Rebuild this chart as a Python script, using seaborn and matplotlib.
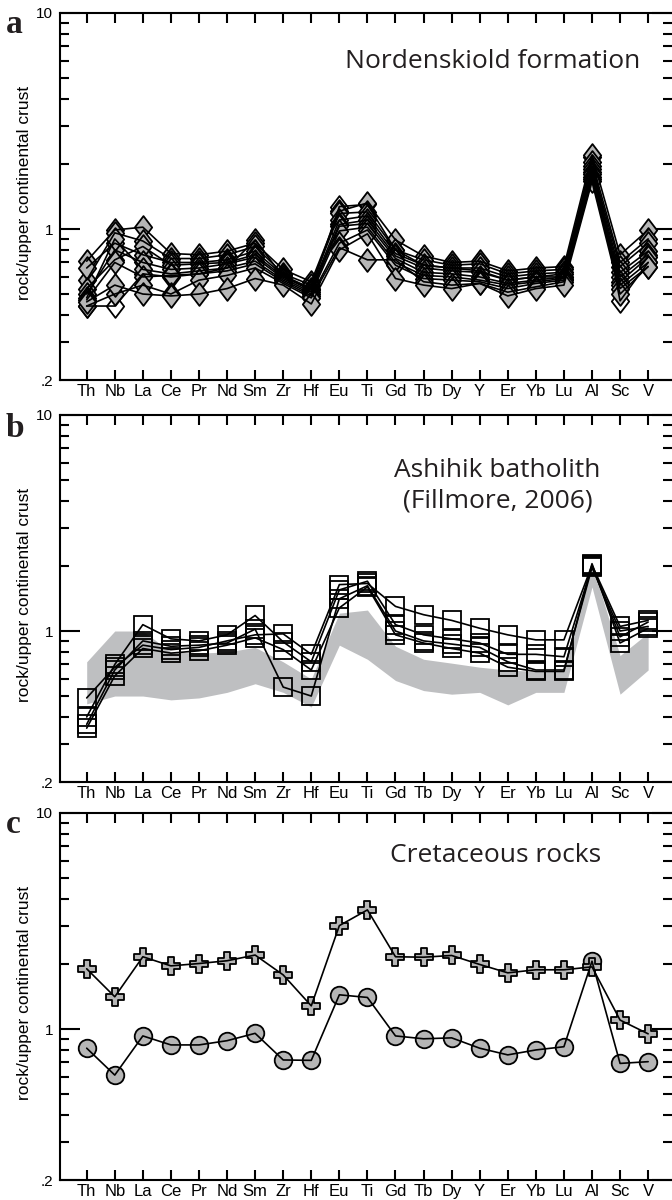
import numpy as np
import pandas as pd
import matplotlib
matplotlib.use("Agg")
import matplotlib.pyplot as plt
from matplotlib.path import Path
from matplotlib.ticker import FixedLocator, FixedFormatter, NullFormatter
import seaborn as sns

# ---------------- data ----------------
elements = ["Th", "Nb", "La", "Ce", "Pr", "Nd", "Sm", "Zr", "Hf", "Eu", "Ti",
            "Gd", "Tb", "Dy", "Y", "Er", "Yb", "Lu", "Al", "Sc", "V"]

# Panel a: Nordenskiold formation (open diamond sample + grey diamond samples)
nord_open = [0.44, 0.44, 0.62, 0.60, 0.62, 0.66, 0.89, 0.60, 0.53, 1.27, 1.30,
             0.80, 0.68, 0.66, 0.64, 0.58, 0.60, 0.60, 2.15, 0.465, 0.70]
nord_1 = [0.71, 0.99, 1.02, 0.77, 0.76, 0.79, 0.86, 0.65, 0.57, 1.21, 1.32,
          0.89, 0.75, 0.70, 0.71, 0.64, 0.66, 0.67, 2.20, 0.76, 0.99]
nord_2 = [0.58, 0.96, 0.88, 0.73, 0.73, 0.76, 0.83, 0.62, 0.55, 1.18, 1.20,
          0.80, 0.72, 0.68, 0.69, 0.62, 0.64, 0.65, 2.05, 0.70, 0.90]
nord_3 = [0.66, 0.86, 0.76, 0.70, 0.70, 0.72, 0.79, 0.61, 0.53, 1.10, 1.15,
          0.77, 0.68, 0.66, 0.66, 0.60, 0.62, 0.63, 1.95, 0.67, 0.86]
nord_4 = [0.53, 0.72, 0.83, 0.68, 0.69, 0.70, 0.76, 0.60, 0.52, 1.05, 1.10,
          0.75, 0.66, 0.64, 0.63, 0.58, 0.60, 0.62, 1.90, 0.63, 0.79]
nord_5 = [0.50, 0.80, 0.70, 0.65, 0.66, 0.69, 0.74, 0.59, 0.51, 1.03, 1.06,
          0.73, 0.63, 0.62, 0.60, 0.56, 0.58, 0.60, 1.84, 0.60, 0.76]
nord_6 = [0.48, 0.90, 0.65, 0.62, 0.64, 0.66, 0.71, 0.58, 0.50, 0.98, 1.02,
          0.70, 0.61, 0.60, 0.58, 0.55, 0.57, 0.59, 1.80, 0.57, 0.74]
nord_7 = [0.47, 0.70, 0.60, 0.61, 0.62, 0.64, 0.69, 0.57, 0.49, 0.86, 0.99,
          0.68, 0.59, 0.58, 0.57, 0.53, 0.56, 0.58, 1.75, 0.55, 0.70]
nord_8 = [0.44, 0.50, 0.55, 0.50, 0.58, 0.61, 0.66, 0.56, 0.48, 0.82, 0.72,
          0.72, 0.57, 0.55, 0.56, 0.51, 0.54, 0.57, 1.70, 0.53, 0.67]
nord_9 = [0.46, 0.55, 0.50, 0.49, 0.50, 0.53, 0.59, 0.55, 0.45, 0.80, 0.95,
          0.59, 0.55, 0.53, 0.56, 0.49, 0.53, 0.55, 1.66, 0.50, 0.67]

# Panel b: Ashihik batholith samples + grey field (Nordenskiold range)
ash_1 = [0.49, 0.68, 0.86, 0.82, 0.84, 0.90, 0.96, 0.97, 0.78, 1.64, 1.66,
         1.30, 1.19, 1.12, 1.03, 0.96, 0.91, 0.91, 2.02, 1.05, 1.12]
ash_2 = [0.40, 0.70, 1.07, 0.92, 0.90, 0.96, 1.18, 0.89, 0.72, 1.55, 1.70,
         1.07, 0.96, 0.92, 0.88, 0.78, 0.78, 0.76, 2.00, 0.94, 1.10]
ash_3 = [0.37, 0.66, 0.90, 0.85, 0.86, 0.88, 1.02, 0.55, 0.50, 1.41, 1.62,
         1.00, 0.90, 0.87, 0.84, 0.72, 0.66, 0.66, 1.97, 1.00, 1.05]
ash_4 = [0.355, 0.62, 0.83, 0.79, 0.81, 0.86, 0.93, 0.82, 0.66, 1.28, 1.60,
         0.96, 0.88, 0.83, 0.79, 0.68, 0.65, 0.65, 2.05, 0.88, 1.03]
field_low = [0.46, 0.50, 0.50, 0.48, 0.49, 0.52, 0.57, 0.52, 0.445, 0.86, 0.74,
             0.59, 0.53, 0.51, 0.52, 0.455, 0.52, 0.52, 1.60, 0.51, 0.66]
field_high = [0.72, 1.00, 1.00, 0.80, 0.79, 0.80, 0.84, 0.72, 0.60, 1.21, 1.25,
              0.85, 0.74, 0.71, 0.68, 0.66, 0.65, 0.65, 2.05, 0.77, 0.98]

# Panel c: Cretaceous rocks
cret_cross = [1.90, 1.41, 2.16, 1.96, 2.01, 2.07, 2.20, 1.78, 1.28, 3.01, 3.56,
              2.16, 2.15, 2.19, 1.99, 1.82, 1.88, 1.88, 1.94, 1.10, 0.95]
cret_circle = [0.815, 0.612, 0.929, 0.844, 0.844, 0.883, 0.955, 0.719, 0.716,
               1.44, 1.40, 0.929, 0.901, 0.91, 0.815, 0.759, 0.80, 0.828,
               2.06, 0.693, 0.706]

titles = ["Nordenskiold formation", "Ashihik batholith", "(Fillmore, 2006)",
          "Cretaceous rocks"]
letters = ["a", "b", "c"]
ylab = "rock/upper continental crust"

# ---------------- style ----------------
sns.set_style("ticks")
plt.rcParams["font.family"] = ["Liberation Sans", "DejaVu Sans"]
plt.rcParams["axes.linewidth"] = 1.5
for k in ["text.color", "axes.labelcolor", "xtick.color", "ytick.color",
          "axes.edgecolor"]:
    plt.rcParams[k] = "black"

GREY = "#B6B6B6"
FIELD = "#BEBFC1"
TXT = "#231F20"

pos = np.arange(len(elements))
diamond = Path([(0, 1), (0.76, 0), (0, -1), (-0.76, 0), (0, 1)],
               [Path.MOVETO, Path.LINETO, Path.LINETO, Path.LINETO, Path.CLOSEPOLY])


def long_df(series):
    rows = []
    for name, vals in series.items():
        for p, v in zip(pos, vals):
            rows.append({"sample": name, "pos": p, "value": v})
    return pd.DataFrame(rows)


fig = plt.figure(figsize=(6.72, 12), dpi=100)
W = 672.0
H = 1200.0
left = 60 / W
width = 612 / W
tops = [13, 415, 813]
axes = []
for t in tops:
    axes.append(fig.add_axes([left, 1 - (t + 367) / H, width, 367 / H]))

# ---- panel a ----
ax = axes[0]
df_open = long_df({"open": nord_open})
sns.scatterplot(data=df_open, x="pos", y="value", ax=ax, marker=diamond, s=270,
                color="white", edgecolor="black", linewidth=1.3, zorder=3, legend=False)
grey_series = {"n1": nord_1, "n2": nord_2, "n3": nord_3, "n4": nord_4, "n5": nord_5,
               "n6": nord_6, "n7": nord_7, "n8": nord_8, "n9": nord_9}
df_a = long_df(grey_series)
sns.scatterplot(data=df_a, x="pos", y="value", ax=ax, marker=diamond, s=270,
                color=GREY, edgecolor="black", linewidth=1.3, zorder=3, legend=False)
df_all_a = pd.concat([df_open, df_a])
sns.lineplot(data=df_all_a, x="pos", y="value", units="sample", estimator=None,
             sort=False, color="black", lw=1.2, ax=ax, zorder=4, legend=False)

# ---- panel b ----
ax = axes[1]
ax.fill_between(pos, field_low, field_high, color=FIELD, lw=0, zorder=1)
df_b = long_df({"b1": ash_1, "b2": ash_2, "b3": ash_3, "b4": ash_4})
sns.lineplot(data=df_b, x="pos", y="value", units="sample", estimator=None,
             sort=False, color="black", lw=1.2, ax=ax, zorder=4, legend=False,
             marker="s", markersize=12.5, markerfacecolor="none",
             markeredgecolor="black", markeredgewidth=1.3)

# ---- panel c ----
ax = axes[2]
df_c1 = long_df({"cross": cret_cross})
df_c2 = long_df({"circle": cret_circle})
sns.scatterplot(data=df_c2, x="pos", y="value", ax=ax, marker="o", s=160,
                color=GREY, edgecolor="black", linewidth=1.3, zorder=3, legend=False)
sns.scatterplot(data=df_c1, x="pos", y="value", ax=ax, marker="P", s=180,
                color=GREY, edgecolor="black", linewidth=1.3, zorder=3, legend=False)
sns.lineplot(data=pd.concat([df_c1, df_c2]), x="pos", y="value", units="sample",
             estimator=None, sort=False, color="black", lw=1.2, ax=ax, zorder=4,
             legend=False)

# ---- common axis formatting ----
letter_base = [33, 437, 833]
for i, ax in enumerate(axes):
    ax.set_yscale("log")
    ax.set_ylim(0.2, 10)
    ax.set_xlim(-0.951, 20.85)
    ax.yaxis.set_major_locator(FixedLocator([0.2, 1, 10]))
    ax.yaxis.set_major_formatter(FixedFormatter([".2", "1", "10"]))
    ax.yaxis.set_minor_locator(FixedLocator([0.3, 0.4, 0.5, 0.6, 0.7, 0.8, 0.9,
                                             2, 3, 4, 5, 6, 7, 8, 9]))
    ax.yaxis.set_minor_formatter(NullFormatter())
    ax.set_xticks(pos)
    ax.set_xticklabels(elements)
    ax.tick_params(axis="y", which="major", direction="in", length=14.5, width=1.5,
                   left=True, right=True, labelsize=11, pad=5)
    ax.tick_params(axis="y", which="minor", direction="in", length=6.5, width=1.5,
                   left=True, right=True)
    ax.tick_params(axis="x", which="major", direction="in", length=7, width=1.5,
                   top=True, bottom=True, labelsize=12, pad=3)
    ax.spines["right"].set_visible(False)
    ax.set_xlabel("")
    ax.set_ylabel(ylab, fontsize=12.5)
    ax.yaxis.set_label_coords(-0.046, 0.51)
    fig.text(6 / W, 1 - letter_base[i] / H, letters[i], ha="left", va="baseline",
             fontsize=24, fontweight="bold", family="Liberation Serif", color=TXT)

tkw = dict(ha="center", va="baseline", fontsize=19, family="Open Sans", color=TXT)
axes[0].text(0.707, 0.850, titles[0], transform=axes[0].transAxes, **tkw)
axes[1].text(0.715, 0.832, titles[1], transform=axes[1].transAxes, **tkw)
axes[1].text(0.715, 0.749, titles[2], transform=axes[1].transAxes, **tkw)
axes[2].text(0.712, 0.866, titles[3], transform=axes[2].transAxes, **tkw)

fig.savefig("out.png", dpi=100)
